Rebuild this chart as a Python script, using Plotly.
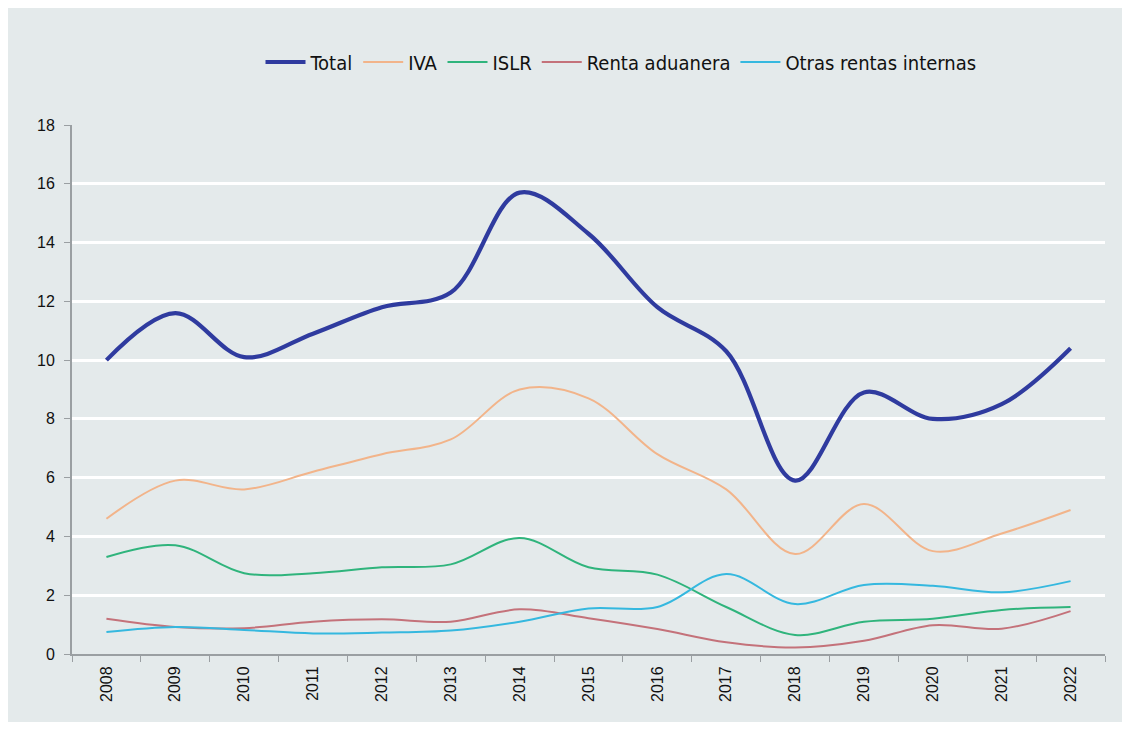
import plotly.graph_objects as go

years = [str(y) for y in range(2008, 2023)]
total = [10.0, 11.6, 10.1, 10.9, 11.8, 12.3, 15.7, 14.3, 11.8, 10.3, 5.9, 8.9, 8.0, 8.5, 10.4]
iva = [4.6, 5.9, 5.6, 6.2, 6.8, 7.3, 9.0, 8.7, 6.8, 5.6, 3.4, 5.1, 3.5, 4.1, 4.9]
islr = [3.3, 3.7, 2.75, 2.75, 2.95, 3.05, 3.95, 2.95, 2.7, 1.6, 0.65, 1.1, 1.2, 1.5, 1.6]
renta = [1.2, 0.92, 0.88, 1.1, 1.18, 1.1, 1.52, 1.22, 0.85, 0.4, 0.22, 0.45, 0.98, 0.86, 1.46]
otras = [0.75, 0.92, 0.82, 0.7, 0.73, 0.8, 1.1, 1.55, 1.6, 2.72, 1.7, 2.35, 2.32, 2.1, 2.48]
y_ticks = [0, 2, 4, 6, 8, 10, 12, 14, 16, 18]

series = [
    ("Total", total, "#2f3b9f", 4.2),
    ("IVA", iva, "#f2b48a", 2),
    ("ISLR", islr, "#2fb47c", 2),
    ("Renta aduanera", renta, "#c4727a", 2),
    ("Otras rentas internas", otras, "#35b8df", 2),
]

fig = go.Figure()
for name, vals, color, w in series:
    fig.add_trace(go.Scatter(
        x=years, y=vals, name=name, mode="lines",
        line=dict(color=color, width=w, shape="spline", smoothing=1.0),
    ))

bg = "#e4eaeb"
W, H = 1114, 714
L, R, T, B = 64, 17, 117, 68
fig.update_layout(
    width=W, height=H,
    paper_bgcolor=bg, plot_bgcolor=bg,
    margin=dict(l=L, r=R, t=T, b=B),
    font=dict(family="Liberation Sans, Arial, sans-serif", color="#222222"),
    showlegend=True,
    legend=dict(
        orientation="h", x=(621 - 8 - L) / (W - L - R), xanchor="center",
        y=(654 - 62) / (654 - 125), yanchor="middle",
        font=dict(family="DejaVu Sans Condensed, DejaVu Sans, sans-serif", size=20, color="#111111"),
        bgcolor="rgba(0,0,0,0)", itemwidth=40, tracegroupgap=0,
    ),
)
fig.update_xaxes(
    type="category", range=[-0.5, 14.5],
    tickangle=-90, tickfont=dict(size=16, color="#111111"),
    showline=True, linecolor="#9a9fa2", linewidth=2,
    ticks="outside", tickson="boundaries", ticklen=6, tickcolor="#9a9fa2", tickwidth=1,
    ticklabelstandoff=4,
    showgrid=False, zeroline=False,
)
fig.update_yaxes(
    range=[0, 18], tickvals=y_ticks,
    tickfont=dict(size=16, color="#111111"),
    showline=True, linecolor="#9a9fa2", linewidth=2,
    ticks="outside", ticklen=6, tickcolor="#9a9fa2",
    ticklabelstandoff=6,
    showgrid=True, gridcolor="#ffffff", gridwidth=3,
    zeroline=False,
)

fig.write_html("out.html")
